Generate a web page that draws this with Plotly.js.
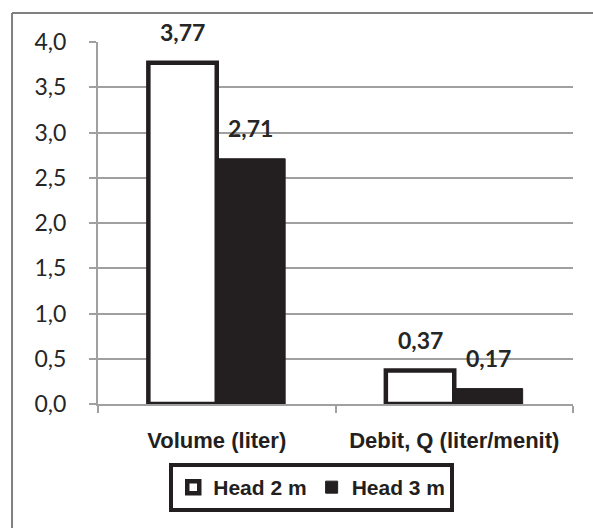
<!DOCTYPE html>
<html>
<head>
<meta charset="utf-8">
<script src="https://cdn.plot.ly/plotly-3.0.1.min.js"></script>
<style>
  html, body { margin: 0; padding: 0; background: #ffffff; }
  #chart { width: 593px; height: 528px; }
</style>
</head>
<body>
<div id="chart"></div>
<script>
// Measured quantities for the two pump heads
const categories = ['Volume (liter)', 'Debit, Q (liter/menit)'];
const seriesNames = ['Head 2 m', 'Head 3 m'];
const head2m = [3.77, 0.37];
const head3m = [2.71, 0.17];
const yTickValues = [0, 0.5, 1, 1.5, 2, 2.5, 3, 3.5, 4];

const BAR_GAP = 0.424;
const barWidth = (1 - BAR_GAP) / 2;   // width of one bar in category units
const ink = '#231f20';
const grid = '#a0a0a0';

const traces = [
  {
    type: 'bar', name: seriesNames[0], x: categories, y: head2m,
    marker: { color: '#ffffff', line: { color: ink, width: 4.5 } },
    hoverinfo: 'none'
  },
  {
    type: 'bar', name: seriesNames[1], x: categories, y: head3m,
    marker: { color: ink, line: { color: ink, width: 1 } },
    hoverinfo: 'none'
  }
];

// value labels above each bar
const fmt = v => v.toFixed(2).replace('.', ',');
const annotations = [];
[head2m, head3m].forEach((vals, s) => {
  const offset = (s === 0 ? -1 : 1) * barWidth / 2;
  vals.forEach((v, i) => {
    annotations.push({
      x: i + offset, y: v, xref: 'x', yref: 'y',
      text: '<b>' + fmt(v) + '</b>',
      showarrow: false, yanchor: 'bottom', yshift: 15,
      font: { family: 'Lato, sans-serif', size: 23, color: '#262626' }
    });
  });
});

// frame: top and left edges of the chart border
const frame = { color: '#808080', width: 2 };

const layout = {
  width: 593, height: 528,
  margin: { l: 98, r: 20, t: 42, b: 124 },
  paper_bgcolor: '#ffffff', plot_bgcolor: '#ffffff',
  separators: ',.',
  barmode: 'group', bargap: BAR_GAP, bargroupgap: 0,
  showlegend: true,
  legend: {
    orientation: 'h', x: 0.45, xanchor: 'center', y: -0.163, yanchor: 'top',
    bordercolor: ink, borderwidth: 4, bgcolor: '#ffffff',
    font: { family: '"Liberation Sans", Arial, sans-serif', size: 21, color: ink, weight: 'bold' },
    itemwidth: 30, traceorder: 'normal'
  },
  xaxis: {
    type: 'category', range: [-0.5, 1.5], fixedrange: true,
    showline: true, linecolor: grid, linewidth: 2,
    ticks: 'outside', tickson: 'boundaries', ticklen: 7, tickcolor: grid, tickwidth: 2,
    ticklabelstandoff: 16,
    tickfont: { family: '"Liberation Sans", Arial, sans-serif', size: 22, color: ink, weight: 'bold' },
    showgrid: false, zeroline: false
  },
  yaxis: {
    range: [0, 4], fixedrange: true,
    tickvals: yTickValues, tickformat: '.1f',
    showline: true, linecolor: grid, linewidth: 2,
    ticks: 'outside', ticklen: 7, tickcolor: grid, tickwidth: 2,
    ticklabelstandoff: 18,
    tickfont: { family: 'Lato, sans-serif', size: 23, color: '#262626' },
    showgrid: true, gridcolor: grid, gridwidth: 2, zeroline: false
  },
  annotations: annotations,
  shapes: [
    { type: 'line', xref: 'paper', yref: 'paper', x0: -0.181, x1: 1.6, y0: 1.08, y1: 1.08, line: frame, layer: 'below' },
    { type: 'line', xref: 'paper', yref: 'paper', x0: -0.181, x1: -0.181, y0: 1.08, y1: -1, line: frame, layer: 'below' }
  ]
};

Plotly.newPlot('chart', traces, layout, { staticPlot: true, displayModeBar: false });
</script>
</body>
</html>
